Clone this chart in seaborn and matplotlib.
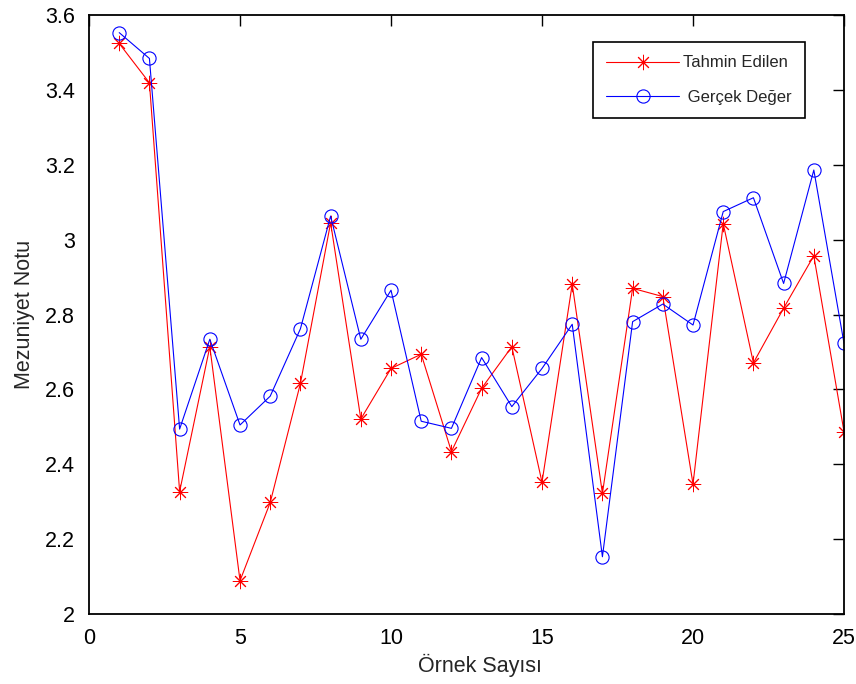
import numpy as np
import pandas as pd
import seaborn as sns
import matplotlib.pyplot as plt
from matplotlib.ticker import FormatStrFormatter

# Veriler
ornek = list(range(1, 26))
tahmin_edilen = [3.524, 3.419, 2.327, 2.714, 2.089, 2.298, 2.616, 3.045, 2.521, 2.656,
                 2.694, 2.434, 2.603, 2.714, 2.352, 2.881, 2.322, 2.870, 2.848, 2.347,
                 3.043, 2.671, 2.817, 2.957, 2.487]
gercek_deger = [3.553, 3.484, 2.494, 2.734, 2.505, 2.582, 2.762, 3.063, 2.734, 2.865,
                2.515, 2.496, 2.685, 2.554, 2.656, 2.774, 2.153, 2.781, 2.828, 2.772,
                3.075, 3.112, 2.883, 3.186, 2.723]
x_ticks = [0, 5, 10, 15, 20, 25]
y_ticks = [2.0, 2.2, 2.4, 2.6, 2.8, 3.0, 3.2, 3.4, 3.6]

sns.set_style("white")
plt.rcParams["font.family"] = ["Liberation Sans", "DejaVu Sans"]

df = pd.DataFrame({"ornek": ornek, "tahmin": tahmin_edilen, "gercek": gercek_deger})

fig = plt.figure(figsize=(8.56, 6.84), dpi=100)
ax = fig.add_axes([0.104, 0.1023, 0.882, 0.8757])

sns.lineplot(data=df, x="ornek", y="tahmin", ax=ax, color="#ff0000",
             marker=(8, 2, 0), markersize=11, markeredgewidth=0.7,
             markeredgecolor="#ff0000", linewidth=0.8, label="Tahmin Edilen")
sns.lineplot(data=df, x="ornek", y="gercek", ax=ax, color="#0000ff",
             marker="o", markersize=9.5, markerfacecolor="none",
             markeredgecolor="#0000ff", markeredgewidth=0.8,
             linewidth=0.8, label=" Gerçek Değer")

ax.set_xlim(0, 25)
ax.set_ylim(2, 3.6)
ax.set_xticks(x_ticks)
ax.set_yticks(y_ticks)
ax.yaxis.set_major_formatter(FormatStrFormatter("%g"))
ax.tick_params(direction="in", length=8, width=1, top=True, right=True,
               labelsize=15.5, pad=10, colors="black")

for s in ax.spines.values():
    s.set_color("black")
    s.set_linewidth(1.3)

ax.set_xlabel("Örnek Sayısı", fontsize=15.5)
ax.set_ylabel("Mezuniyet Notu", fontsize=15.5)
ax.xaxis.set_label_coords(0.518, -0.066)
ax.yaxis.set_label_coords(-0.071, 0.5)

leg = ax.legend(loc="upper right", bbox_to_anchor=(0.948, 0.955), fontsize=12,
                frameon=True, fancybox=False, framealpha=1, edgecolor="black",
                handlelength=4.4, handletextpad=0.2, labelspacing=1.15,
                borderpad=0.8, borderaxespad=0)
leg.get_frame().set_linewidth(1.2)

fig.savefig("out.png", dpi=100)
